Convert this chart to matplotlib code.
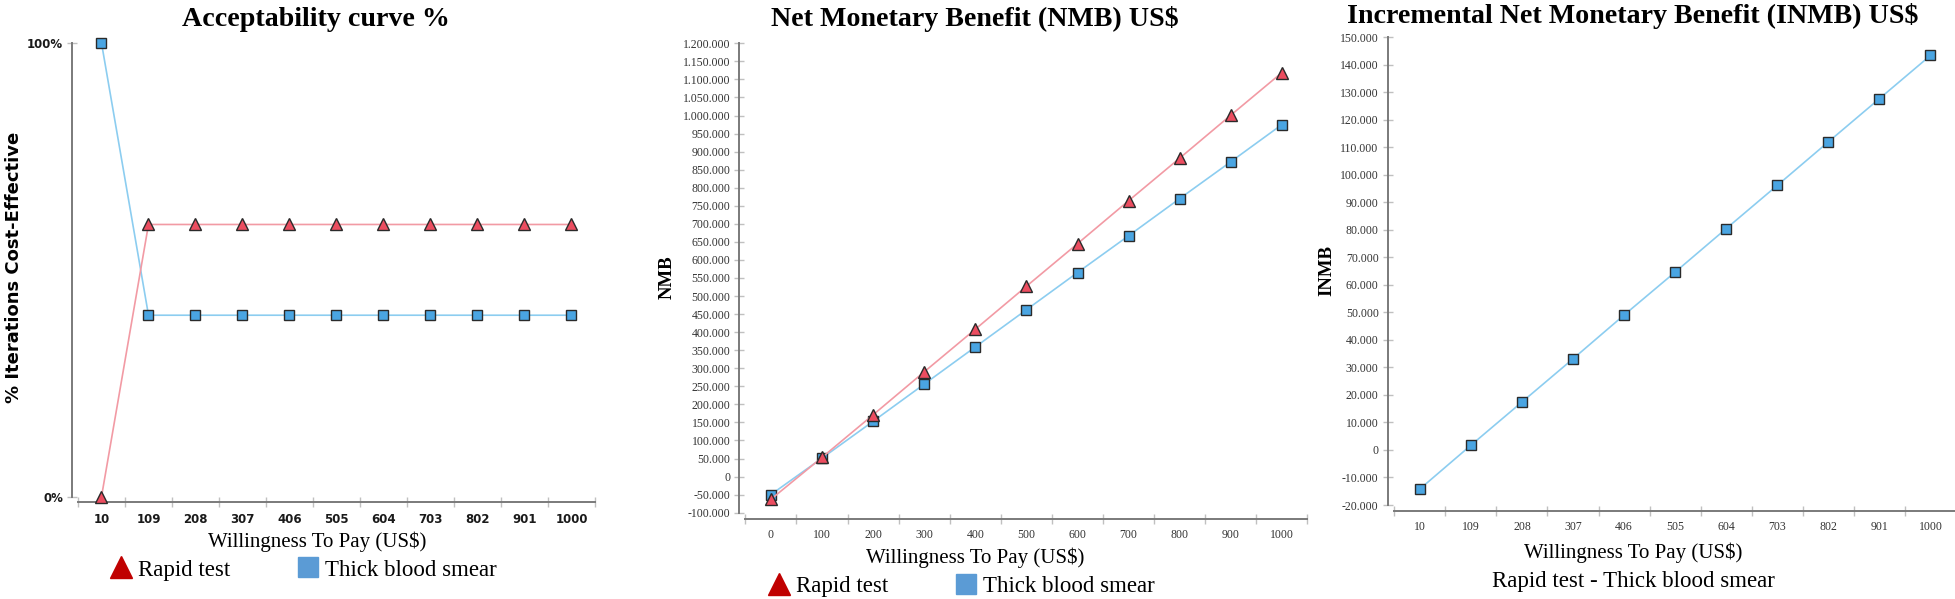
import numpy as np
import matplotlib
matplotlib.use('Agg')
import matplotlib.pyplot as plt
from matplotlib.lines import Line2D
from matplotlib.ticker import FuncFormatter

# willingness to pay categories
wtp_acc = ['10', '109', '208', '307', '406', '505', '604', '703', '802', '901', '1000']
wtp_nmb = ['0', '100', '200', '300', '400', '500', '600', '700', '800', '900', '1000']

# acceptability curve (% iterations cost-effective)
acc_rapid = [0, 60, 60, 60, 60, 60, 60, 60, 60, 60, 60]
acc_thick = [100, 40, 40, 40, 40, 40, 40, 40, 40, 40, 40]

# net monetary benefit (US$)
nmb_rapid = [-63000, 53000, 171000, 290000, 408000, 527000, 645000, 764000, 882000, 1001000, 1119000]
nmb_thick = [-50000, 51000, 153000, 256000, 359000, 462000, 565000, 667000, 770000, 872000, 975000]

# incremental net monetary benefit (rapid - thick)
inmb = [-14200, 1700, 17400, 33100, 49000, 64600, 80400, 96100, 111900, 127600, 143300]

W, H = 1956, 599
SERIF = 'Liberation Serif'
SANS = 'DejaVu Sans'

RED_LINE = '#f29aa4'
BLUE_LINE = '#8ccdf0'
RED_FILL = '#ec4d60'
BLUE_FILL = '#4aa5e2'
EDGE = '#2a2a2a'
AXIS = '#7a7a7a'
TICK = '#c0c0c0'

fig = plt.figure(figsize=(W / 100, H / 100), dpi=100)


def px_axes(left, top, right, bottom):
    return fig.add_axes([left / W, 1 - bottom / H, (right - left) / W, (bottom - top) / H])


def style_axes(ax, yoff, xoff, tickfont, tickweight, tickcolor, tsize, xpad):
    for s in ['top', 'right']:
        ax.spines[s].set_visible(False)
    ax.spines['left'].set_position(('outward', yoff * 0.72))
    ax.spines['bottom'].set_position(('outward', xoff * 0.72))
    for s in ['left', 'bottom']:
        ax.spines[s].set_color(AXIS)
        ax.spines[s].set_linewidth(1.4)
    ax.set_xlim(-0.5, 10.5)
    ax.set_xticks(np.arange(11))
    ax.set_xticks(np.arange(-0.5, 11, 1), minor=True)
    ax.tick_params(axis='x', which='major', length=0, pad=xpad)
    ax.tick_params(axis='x', which='minor', direction='inout', length=7, color=TICK, width=1)
    ax.tick_params(axis='y', direction='inout', length=7, color=TICK, width=1, pad=3)
    for lab in ax.get_xticklabels() + ax.get_yticklabels():
        lab.set_fontfamily(tickfont)
        lab.set_fontweight(tickweight)
        lab.set_color(tickcolor)
        lab.set_fontsize(tsize)


def plot_pair(ax, xs, blue, red):
    ax.plot(xs, blue, color=BLUE_LINE, lw=1.2, marker='s', ms=7.5,
            mfc=BLUE_FILL, mec=EDGE, mew=1, zorder=3, clip_on=False)
    ax.plot(xs, red, color=RED_LINE, lw=1.2, marker='^', ms=8,
            mfc=RED_FILL, mec=EDGE, mew=1, zorder=4, clip_on=False)


def legend_at(cx, cy):
    handles = [Line2D([], [], ls='', marker='^', ms=16, color='#c00000'),
               Line2D([], [], ls='', marker='s', ms=14, color='#5b9bd5')]
    fig.legend(handles, ['Rapid test', 'Thick blood smear'], loc='center',
               bbox_to_anchor=(cx / W, 1 - cy / H), bbox_transform=fig.transFigure,
               ncol=2, frameon=False, prop={'family': SERIF, 'size': 16.5},
               handlelength=1.0, handletextpad=0.25, columnspacing=2.9,
               borderpad=0, borderaxespad=0)


# ---- panel 1: acceptability curve
ax1 = px_axes(78, 43, 595, 496.7)
xs = np.arange(len(wtp_acc))
plot_pair(ax1, xs, np.array(acc_thick) / 100, np.array(acc_rapid) / 100)
ax1.set_ylim(0, 1)
ax1.set_yticks([0, 1])
ax1.set_yticklabels(['0%', '100%'])
ax1.set_xticklabels(wtp_acc)
style_axes(ax1, 6, 5, SANS, 'bold', '#1a1a1a', 8.5, 8)
ax1.spines['left'].set_bounds(0, 1)
fig.text(316 / W, 1 - 26 / H, 'Acceptability curve %', ha='center', va='baseline',
         family=SERIF, weight='bold', size=20.2)
fig.text(14 / W, 1 - 267 / H, '% Iterations Cost-Effective', ha='center', va='center',
         rotation=90, family=SANS, weight='bold', size=13)
fig.text(317 / W, 1 - 541.7 / H, 'Willingness To Pay (US$)', ha='center', va='center',
         family=SERIF, size=15)
legend_at(303, 570)

# ---- panel 2: net monetary benefit
ax2 = px_axes(745.3, 43.3, 1307.5, 512.7)
plot_pair(ax2, np.arange(len(wtp_nmb)), nmb_thick, nmb_rapid)
ax2.set_ylim(-100000, 1200000)
ax2.set_yticks(np.arange(-100000, 1200001, 50000))
ax2.yaxis.set_major_formatter(FuncFormatter(lambda v, p: f'{int(v):,}'.replace(',', '.')))
ax2.set_xticklabels(wtp_nmb)
style_axes(ax2, 6, 6.6, SERIF, 'normal', '#333333', 8.5, 7)
fig.text(975 / W, 1 - 26 / H, 'Net Monetary Benefit (NMB) US$', ha='center', va='baseline',
         family=SERIF, weight='bold', size=20.2)
fig.text(667 / W, 1 - 277 / H, 'NMB', ha='center', va='center', rotation=90,
         family=SERIF, weight='bold', size=13.5)
fig.text(975 / W, 1 - 558 / H, 'Willingness To Pay (US$)', ha='center', va='center',
         family=SERIF, size=15)
legend_at(961, 586)

# ---- panel 3: incremental net monetary benefit
ax3 = px_axes(1394.3, 37, 1956, 505)
ax3.plot(np.arange(len(wtp_acc)), inmb, color=BLUE_LINE, lw=1.2, marker='s', ms=7.5,
         mfc=BLUE_FILL, mec=EDGE, mew=1, zorder=3, clip_on=False)
ax3.set_ylim(-20000, 150000)
ax3.set_yticks(np.arange(-20000, 150001, 10000))
ax3.yaxis.set_major_formatter(FuncFormatter(lambda v, p: f'{int(v):,}'.replace(',', '.')))
ax3.set_xticklabels(wtp_acc)
style_axes(ax3, 6.6, 6, SERIF, 'normal', '#333333', 8.5, 7)
fig.text(1633 / W, 1 - 23 / H, 'Incremental Net Monetary Benefit (INMB) US$', ha='center',
         va='baseline', family=SERIF, weight='bold', size=20.2)
fig.text(1327 / W, 1 - 271 / H, 'INMB', ha='center', va='center', rotation=90,
         family=SERIF, weight='bold', size=13.5)
fig.text(1633 / W, 1 - 553 / H, 'Willingness To Pay (US$)', ha='center', va='center',
         family=SERIF, size=15)
fig.text(1633 / W, 1 - 581.7 / H, 'Rapid test - Thick blood smear', ha='center', va='center',
         family=SERIF, size=16.5)

fig.savefig('out.png', dpi=100)
